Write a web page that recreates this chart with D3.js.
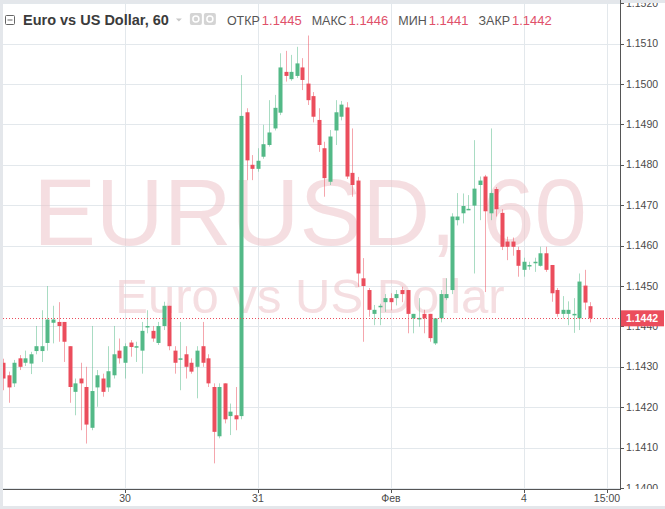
<!DOCTYPE html>
<html><head><meta charset="utf-8">
<script src="https://cdn.jsdelivr.net/npm/d3@7"></script>
<style>body{margin:0;background:#fff;} svg{display:block}</style>
</head><body>
<script>
// ---- DATA (EURUSD, 1h candles; index 0 = 29 Jan 02:00) ----
const open = [1.14310,1.14279,1.14259,1.14321,1.14310,1.14308,1.14339,1.14339,1.14359,1.14409,
1.14411,1.14411,1.14351,1.14238,1.14271,1.14250,1.14149,1.14249,1.14271,1.14249,
1.14279,1.14340,1.14310,1.14360,1.14350,1.14340,1.14400,1.14389,1.14359,1.14401,
1.14451,1.14340,1.14320,1.14331,1.14310,1.14300,1.14351,1.14321,1.14250,1.14128,
1.14259,1.14178,1.14180,1.14178,1.14930,1.14800,1.14790,1.14820,1.14849,1.14890,
1.14929,1.15030,1.15012,1.15020,1.15041,1.15001,1.14970,1.14911,1.14841,1.14758,
1.14885,1.14919,1.14942,1.14780,1.14761,1.14519,1.14490,1.14431,1.14450,1.14460,
1.14470,1.14470,1.14490,1.14490,1.14420,1.14420,1.14431,1.14431,1.14358,1.14420,
1.14470,1.14490,1.14663,1.14680,1.14690,1.14699,1.14750,1.14771,1.14680,1.14740,
1.14681,1.14610,1.14610,1.14589,1.14540,1.14551,1.14559,1.14550,1.14581,1.14552,
1.14490,1.14431,1.14431,1.14430,1.14420,1.14501,1.14450];
const high = [1.14320,1.14288,1.14317,1.14329,1.14340,1.14337,1.14401,1.14440,1.14500,1.14451,
1.14460,1.14411,1.14351,1.14271,1.14310,1.14300,1.14401,1.14292,1.14283,1.14351,
1.14401,1.14370,1.14358,1.14366,1.14362,1.14411,1.14440,1.14401,1.14411,1.14461,
1.14451,1.14351,1.14411,1.14351,1.14321,1.14351,1.14411,1.14331,1.14259,1.14259,
1.14259,1.14209,1.14250,1.15022,1.14940,1.14824,1.14841,1.14899,1.14960,1.14973,
1.15076,1.15082,1.15072,1.15092,1.15064,1.15120,1.14980,1.14940,1.14857,1.14886,
1.14960,1.14958,1.14955,1.14890,1.14770,1.14569,1.14495,1.14453,1.14456,1.14480,
1.14482,1.14490,1.14498,1.14490,1.14431,1.14470,1.14441,1.14431,1.14420,1.14490,
1.14519,1.14680,1.14730,1.14729,1.14725,1.14861,1.14771,1.14775,1.14890,1.14745,
1.14690,1.14622,1.14620,1.14597,1.14570,1.14560,1.14570,1.14597,1.14597,1.14552,
1.14495,1.14475,1.14462,1.14470,1.14531,1.14540,1.14460];
const low = [1.14242,1.14211,1.14250,1.14292,1.14302,1.14282,1.14331,1.14312,1.14340,1.14358,
1.14362,1.14312,1.14211,1.14180,1.14143,1.14110,1.14143,1.14201,1.14226,1.14238,
1.14271,1.14308,1.14271,1.14325,1.14312,1.14283,1.14383,1.14362,1.14354,1.14391,
1.14341,1.14283,1.14242,1.14271,1.14283,1.14222,1.14300,1.14250,1.14061,1.14123,
1.14160,1.14131,1.14143,1.14170,1.14762,1.14762,1.14783,1.14815,1.14845,1.14885,
1.14923,1.15006,1.15008,1.15015,1.14985,1.14948,1.14905,1.14832,1.14721,1.14750,
1.14849,1.14910,1.14765,1.14721,1.14498,1.14362,1.14424,1.14403,1.14403,1.14436,
1.14440,1.14452,1.14460,1.14383,1.14383,1.14399,1.14383,1.14362,1.14354,1.14410,
1.14465,1.14480,1.14650,1.14655,1.14688,1.14531,1.14663,1.14485,1.14663,1.14672,
1.14589,1.14564,1.14575,1.14523,1.14523,1.14540,1.14535,1.14548,1.14535,1.14461,
1.14424,1.14420,1.14403,1.14384,1.14391,1.14441,1.14410];
const close = [1.14271,1.14249,1.14310,1.14300,1.14321,1.14331,1.14351,1.14351,1.14417,1.14417,
1.14401,1.14362,1.14250,1.14259,1.14259,1.14157,1.14240,1.14279,1.14238,1.14289,
1.14331,1.14321,1.14351,1.14349,1.14351,1.14389,1.14401,1.14370,1.14401,1.14451,
1.14351,1.14310,1.14321,1.14300,1.14288,1.14340,1.14310,1.14259,1.14139,1.14250,
1.14170,1.14189,1.14170,1.14921,1.14811,1.14790,1.14810,1.14851,1.14880,1.14941,
1.15041,1.15020,1.15030,1.15051,1.15010,1.14960,1.14919,1.14849,1.14767,1.14870,
1.14930,1.14949,1.14771,1.14750,1.14531,1.14500,1.14441,1.14441,1.14451,1.14470,
1.14460,1.14480,1.14480,1.14431,1.14431,1.14421,1.14420,1.14371,1.14420,1.14480,
1.14480,1.14672,1.14672,1.14698,1.14691,1.14741,1.14761,1.14685,1.14730,1.14690,
1.14597,1.14597,1.14597,1.14550,1.14560,1.14552,1.14560,1.14581,1.14540,1.14482,
1.14431,1.14441,1.14441,1.14431,1.14511,1.14459,1.14420];

const xTickIndex  = [22, 46, 70, 94, 109];
const xTickLabels = ["30", "31", "Фев", "4", "15:00"];
const yTickValues = [1.1400,1.1410,1.1420,1.1430,1.1440,1.1450,1.1460,1.1470,1.1480,1.1490,1.1500,1.1510,1.1520];
const lastPrice = 1.1442;
const titleText = "Euro vs US Dollar, 60";
const ohlcLabels = ["ОТКР", "МАКС", "МИН", "ЗАКР"];
const ohlcValues = ["1.1445", "1.1446", "1.1441", "1.1442"];
const watermarkBig = "EURUSD, 60";
const watermarkSmall = "Euro vs US Dollar";

// ---- LAYOUT ----
const W = 665, H = 509;
const L = 3, R = 620, T = 3, B = 489;
const UP = "#53b987", DOWN = "#eb4d5c";
const FONT = "'Liberation Sans', Arial, sans-serif";

const svg = d3.select("body").append("svg").attr("width", W).attr("height", H);
svg.append("rect").attr("width", W).attr("height", H).attr("fill", "#e4e7eb");
svg.append("rect").attr("x", 3).attr("y", 3).attr("width", W - 3).attr("height", H - 6).attr("fill", "#fff");

const x = d3.scaleLinear().domain([0, 106]).range([3.1, 3.1 + 106 * 5.54]);
const y = d3.scaleLinear().domain([1.1400, 1.1520]).range([488, 3.2]);

const defs = svg.append("defs");
defs.append("clipPath").attr("id", "plot").append("rect").attr("x", L).attr("y", T).attr("width", R - L).attr("height", B - T);
defs.append("clipPath").attr("id", "yax").append("rect").attr("x", R).attr("y", T).attr("width", W - R).attr("height", B - T);

const plot = svg.append("g").attr("clip-path", "url(#plot)");

// grid
plot.selectAll("line.hg").data(yTickValues).enter().append("line")
  .attr("x1", L).attr("x2", R)
  .attr("y1", d => Math.round(y(d)) + 0.5).attr("y2", d => Math.round(y(d)) + 0.5)
  .attr("stroke", "#e3e8ec").attr("stroke-width", 1);
plot.selectAll("line.vg").data(xTickIndex).enter().append("line")
  .attr("y1", T).attr("y2", B)
  .attr("x1", d => Math.round(x(d)) + 0.5).attr("x2", d => Math.round(x(d)) + 0.5)
  .attr("stroke", "#e3e8ec").attr("stroke-width", 1);

// watermark
plot.append("text").attr("x", 310).attr("y", 245).attr("text-anchor", "middle")
  .attr("font-family", FONT).attr("font-size", 94).attr("fill", "#ecc3c8").attr("fill-opacity", 0.55)
  .text(watermarkBig);
plot.append("text").attr("x", 310).attr("y", 313).attr("text-anchor", "middle")
  .attr("font-family", FONT).attr("font-size", 49).attr("fill", "#ecc3c8").attr("fill-opacity", 0.55)
  .text(watermarkSmall);

// candles
const idx = d3.range(open.length);
const cx = i => Math.round(x(i));
plot.selectAll("line.wick").data(idx).enter().append("line")
  .attr("x1", i => cx(i) + 0.5).attr("x2", i => cx(i) + 0.5)
  .attr("y1", i => y(high[i])).attr("y2", i => y(low[i]))
  .attr("stroke", i => close[i] >= open[i] ? UP : DOWN)
  .attr("stroke-opacity", 0.5).attr("stroke-width", 1);
plot.selectAll("rect.body").data(idx).enter().append("rect")
  .attr("x", i => cx(i) - 1.5).attr("width", 4)
  .attr("y", i => y(Math.max(open[i], close[i])))
  .attr("height", i => Math.max(1.5, Math.abs(y(open[i]) - y(close[i]))))
  .attr("fill", i => close[i] >= open[i] ? UP : DOWN);

// last price dotted line
plot.append("line").attr("x1", L).attr("x2", R)
  .attr("y1", Math.round(y(lastPrice)) + 0.5).attr("y2", Math.round(y(lastPrice)) + 0.5)
  .attr("stroke", DOWN).attr("stroke-width", 1).attr("stroke-dasharray", "1,2");

// y axis
const yax = svg.append("g").attr("clip-path", "url(#yax)");
yax.selectAll("line.tk").data(yTickValues).enter().append("line")
  .attr("x1", R).attr("x2", R + 4)
  .attr("y1", d => Math.round(y(d)) + 0.5).attr("y2", d => Math.round(y(d)) + 0.5)
  .attr("stroke", "#555");
yax.selectAll("text").data(yTickValues).enter().append("text")
  .attr("x", R + 6).attr("y", d => y(d)).attr("dy", "0.35em")
  .attr("font-family", FONT).attr("font-size", 10.5).attr("fill", "#4a4a4a")
  .text(d => d3.format(".4f")(d));
svg.append("line").attr("x1", R + 0.5).attr("x2", R + 0.5).attr("y1", 0).attr("y2", B)
  .attr("stroke", "#555").attr("stroke-width", 1);

// last price label
const ly = y(lastPrice);
svg.append("rect").attr("x", R + 1).attr("y", ly - 8).attr("width", 43).attr("height", 16).attr("fill", DOWN);
svg.append("text").attr("x", R + 6).attr("y", ly).attr("dy", "0.35em")
  .attr("font-family", FONT).attr("font-size", 10.5).attr("fill", "#fff").attr("font-weight", "bold")
  .text(d3.format(".4f")(lastPrice));

// x axis
svg.append("line").attr("x1", L).attr("x2", R + 1).attr("y1", B + 0.5).attr("y2", B + 0.5)
  .attr("stroke", "#555").attr("stroke-width", 1);
svg.selectAll("line.xt").data(xTickIndex).enter().append("line")
  .attr("x1", d => Math.round(x(d)) + 0.5).attr("x2", d => Math.round(x(d)) + 0.5)
  .attr("y1", B).attr("y2", B + 4).attr("stroke", "#555");
svg.selectAll("text.xl").data(xTickIndex).enter().append("text")
  .attr("x", d => x(d)).attr("y", B + 9).attr("dy", "0.35em").attr("text-anchor", "middle")
  .attr("font-family", FONT).attr("font-size", 10.5).attr("fill", "#4a4a4a")
  .text((d, i) => xTickLabels[i]);

// header
const hdr = svg.append("g");
hdr.append("rect").attr("x", 5.5).attr("y", 15.5).attr("width", 9).attr("height", 9)
  .attr("fill", "none").attr("stroke", "#666").attr("rx", 1);
hdr.append("line").attr("x1", 7.5).attr("x2", 12.5).attr("y1", 20).attr("y2", 20).attr("stroke", "#666");
const title = hdr.append("text").attr("x", 23).attr("y", 25)
  .attr("font-family", FONT).attr("font-size", 14.5).attr("font-weight", "bold").attr("fill", "#3b3b3b")
  .text(titleText);
let hx = 23 + title.node().getComputedTextLength() + 7;
hdr.append("path").attr("d", `M${hx},18.5 L${hx + 6},18.5 L${hx + 3},21.5 Z`).attr("fill", "#c8c8c8");
hx += 14;
[0, 1].forEach(k => {
  hdr.append("rect").attr("x", hx + k * 14).attr("y", 13).attr("width", 12).attr("height", 12).attr("rx", 2).attr("fill", "#d4d4d4");
  hdr.append("circle").attr("cx", hx + k * 14 + 6).attr("cy", 19).attr("r", 3).attr("fill", "none").attr("stroke", "#fff").attr("stroke-width", 1.5);
});
hx += 37;
ohlcLabels.forEach((lab, k) => {
  const t1 = hdr.append("text").attr("x", hx).attr("y", 25)
    .attr("font-family", FONT).attr("font-size", 12.5).attr("fill", "#555").text(lab);
  hx += t1.node().getComputedTextLength() + 2;
  const t2 = hdr.append("text").attr("x", hx).attr("y", 25)
    .attr("font-family", FONT).attr("font-size", 13).attr("fill", "#e0506a").text(ohlcValues[k]);
  hx += t2.node().getComputedTextLength() + 10;
});
</script>
</body></html>
